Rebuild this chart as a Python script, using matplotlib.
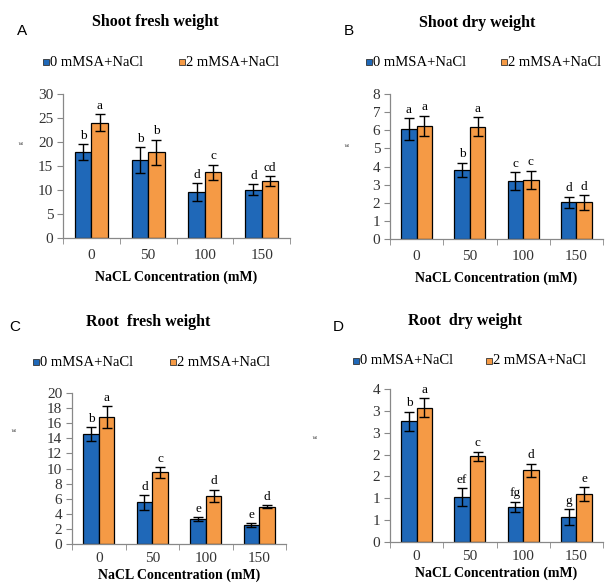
import matplotlib
matplotlib.use("Agg")
import matplotlib.pyplot as plt
from matplotlib.patches import Rectangle

categories = ["0", "50", "100", "150"]
series_names = ["0 mMSA+NaCl", "2 mMSA+NaCl"]

# Panel A: Shoot fresh weight
a_sa0 = [17.9, 16.3, 9.6, 10.1]
a_sa0_err = [1.7, 2.7, 1.8, 1.1]
a_sa2 = [24.0, 17.9, 13.7, 11.9]
a_sa2_err = [1.8, 2.6, 1.6, 1.0]
a_let0 = ["b", "b", "d", "d"]
a_let2 = ["a", "b", "c", "cd"]
a_ticks = [0, 5, 10, 15, 20, 25, 30]
a_ticklabels = ["0", "5", "10", "15", "20", "25", "30"]

# Panel B: Shoot dry weight
b_sa0 = [6.05, 3.82, 3.21, 2.02]
b_sa0_err = [0.6, 0.4, 0.5, 0.32]
b_sa2 = [6.26, 6.2, 3.27, 2.02]
b_sa2_err = [0.55, 0.53, 0.5, 0.42]
b_let0 = ["a", "b", "c", "d"]
b_let2 = ["a", "a", "c", "d"]
b_ticks = [0, 1, 2, 3, 4, 5, 6, 7, 8]
b_ticklabels = ["0", "1", "2", "3", "4", "5", "6", "7", "8"]

# Panel C: Root fresh weight
c_sa0 = [14.6, 5.5, 3.3, 2.5]
c_sa0_err = [0.9, 1.0, 0.25, 0.3]
c_sa2 = [16.8, 9.5, 6.4, 4.95]
c_sa2_err = [1.45, 0.7, 0.8, 0.15]
c_let0 = ["b", "d", "e", "e"]
c_let2 = ["a", "c", "d", "d"]
c_ticks = [0, 2, 4, 6, 8, 10, 12, 14, 16, 18, 20]
c_ticklabels = ["0", "2", "4", "6", "8", "10", "12", "14", "16", "18", "20"]

# Panel D: Root dry weight
d_sa0 = [2.76, 1.03, 0.80, 0.57]
d_sa0_err = [0.22, 0.2, 0.12, 0.18]
d_sa2 = [3.07, 1.96, 1.64, 1.10]
d_sa2_err = [0.22, 0.11, 0.15, 0.16]
d_let0 = ["b", "ef", "fg", "g"]
d_let2 = ["a", "c", "d", "e"]
d_ticks = [0, 0.5, 1.0, 1.5, 2.0, 2.5, 3.0, 3.5]
d_ticklabels = ["0", "1", "1", "2", "2", "3", "3", "4"]

titles = ["Shoot fresh weight", "Shoot dry weight", "Root  fresh weight", "Root  dry weight"]
panel_letters = ["A", "B", "C", "D"]
xlabel = "NaCL Concentration (mM)"

BLUE = "#1f68b8"
ORANGE = "#f59a45"
SERIF = "Liberation Serif"
SANS = "Liberation Sans"

fig = plt.figure(figsize=(6.05, 5.85), dpi=100)
W, H = 605.0, 585.0

def fx(px):
    return px / W

def fy(py):
    return 1 - py / H

panels = [
    dict(box=(63, 94, 290, 238), s0=a_sa0, e0=a_sa0_err, s2=a_sa2, e2=a_sa2_err,
         l0=a_let0, l2=a_let2, ticks=a_ticks, tl=a_ticklabels, tpad=8, lpad=6,
         title=(155, 22), letter=(22, 31), leg=(43, 179, 62), glab=(21, 143)),
    dict(box=(390, 94, 603, 239), s0=b_sa0, e0=b_sa0_err, s2=b_sa2, e2=b_sa2_err,
         l0=b_let0, l2=b_let2, ticks=b_ticks, tl=b_ticklabels, tpad=8, lpad=6,
         title=(477, 23), letter=(349, 31), leg=(366, 501, 62), glab=(347, 145)),
    dict(box=(72, 393, 286, 544), s0=c_sa0, e0=c_sa0_err, s2=c_sa2, e2=c_sa2_err,
         l0=c_let0, l2=c_let2, ticks=c_ticks, tl=c_ticklabels, tpad=6, lpad=2,
         title=(148, 322), letter=(15, 327), leg=(33, 170, 362), glab=(14, 430)),
    dict(box=(390, 389, 603, 542), s0=d_sa0, e0=d_sa0_err, s2=d_sa2, e2=d_sa2_err,
         l0=d_let0, l2=d_let2, ticks=d_ticks, tl=d_ticklabels, tpad=6, lpad=2,
         title=(465, 321), letter=(338, 327), leg=(353, 486, 361), glab=(315, 437)),
]

for i, p in enumerate(panels):
    l, t, r, b = p["box"]
    ax = fig.add_axes([fx(l), fy(b), fx(r) - fx(l), fy(t) - fy(b)])
    n = len(categories)
    w = 0.29
    xs = [k + 0.5 for k in range(n)]
    x0 = [x - w / 2 for x in xs]
    x2 = [x + w / 2 for x in xs]
    ax.bar(x0, p["s0"], width=w, color=BLUE, edgecolor="black", linewidth=0.9, zorder=2)
    ax.bar(x2, p["s2"], width=w, color=ORANGE, edgecolor="black", linewidth=0.9, zorder=2)
    ax.errorbar(x0, p["s0"], yerr=p["e0"], fmt="none", ecolor="black", elinewidth=1.0,
                capsize=3.5, capthick=1.0, zorder=3)
    ax.errorbar(x2, p["s2"], yerr=p["e2"], fmt="none", ecolor="black", elinewidth=1.0,
                capsize=3.5, capthick=1.0, zorder=3)
    ymax = p["ticks"][-1]
    off = ymax * 0.015
    for k in range(n):
        ax.text(x0[k], p["s0"][k] + p["e0"][k] + off, p["l0"][k], ha="center", va="bottom",
                fontsize=9.5, family=SERIF)
        ax.text(x2[k], p["s2"][k] + p["e2"][k] + off, p["l2"][k], ha="center", va="bottom",
                fontsize=9.5, family=SERIF)
    ax.set_xlim(0, n)
    ax.set_ylim(0, ymax)
    ax.set_yticks(p["ticks"])
    ax.set_yticklabels(p["tl"], family=SERIF, fontsize=11, color="#333333")
    ax.set_xticks(xs)
    ax.set_xticklabels(categories, family=SERIF, fontsize=11, color="#333333")
    ax.set_xticks(range(n + 1), minor=True)
    ax.tick_params(axis="x", which="major", length=0, pad=p["tpad"])
    ax.tick_params(axis="x", which="minor", length=4, color="#888888", direction="out")
    ax.tick_params(axis="y", length=4, color="#888888", direction="out", pad=3)
    for s in ["top", "right"]:
        ax.spines[s].set_visible(False)
    for s in ["left", "bottom"]:
        ax.spines[s].set_color("#888888")
        ax.spines[s].set_linewidth(0.9)
    ax.set_xlabel(xlabel, family=SERIF, fontweight="bold", fontsize=10, labelpad=p["lpad"])

    # title and panel letter
    fig.text(fx(p["title"][0]), fy(p["title"][1]), titles[i], ha="center", va="center",
             family=SERIF, fontweight="bold", fontsize=11.5)
    fig.text(fx(p["letter"][0]), fy(p["letter"][1]), panel_letters[i], ha="center", va="center",
             family=SANS, fontsize=11)
    # small y-label
    fig.text(fx(p["glab"][0]), fy(p["glab"][1]), "g", ha="center", va="center",
             family=SERIF, fontsize=4, rotation=90)

    # legend
    bx0, bx2, ly = p["leg"]
    for bx, col, name in [(bx0, BLUE, series_names[0]), (bx2, ORANGE, series_names[1])]:
        sq = 6
        fig.patches.append(Rectangle((fx(bx), fy(ly + sq / 2)), sq / W, sq / H,
                                     transform=fig.transFigure, facecolor=col,
                                     edgecolor="#333333", linewidth=0.6))
        fig.text(fx(bx + sq + 1), fy(ly), name, ha="left", va="center",
                 family=SERIF, fontsize=10.5)

fig.savefig("out.png", dpi=100)
